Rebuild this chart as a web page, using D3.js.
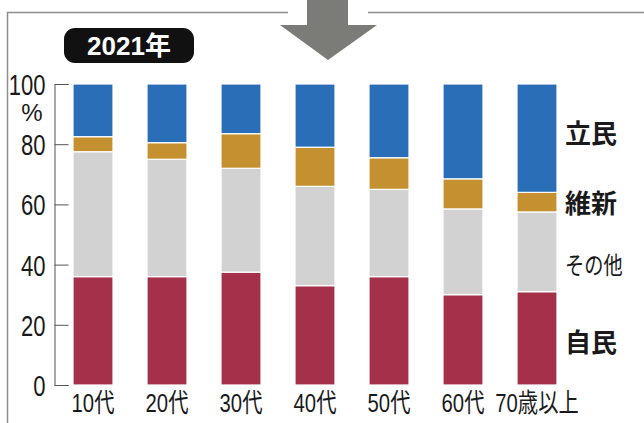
<!DOCTYPE html>
<html>
<head>
<meta charset="utf-8">
<script src="https://cdn.jsdelivr.net/npm/d3@7"></script>
<style>
  body { margin: 0; background: #fff; }
  svg { display: block; }
</style>
</head>
<body>
<div id="chart-area"></div>
<script>
// data (percent of voters per age group)
var categories = ["10代", "20代", "30代", "40代", "50代", "60代", "70歳以上"];
var parties = ["自民", "その他", "維新", "立民"];
var jimin  = [36, 36, 37.5, 33, 36, 30, 31];
var sonota = [41.5, 39, 34.5, 33, 29, 28.5, 26.5];
var ishin  = [5, 5.5, 11.5, 13, 10.5, 10, 6.5];
var rikken = [17.5, 19.5, 16.5, 21, 24.5, 31.5, 36];
var yTicks = [0, 20, 40, 60, 80, 100];
var yearLabel = "2021年";

var width = 644;
var height = 423;
var colors = ["#a4304a", "#d2d2d2", "#c49030", "#2a6eb8"];
var numFont = "'Liberation Sans', 'Noto Sans CJK JP', sans-serif";
var cjkFont = "'Noto Sans CJK JP', sans-serif";

var rows = categories.map(function(c, i) {
    return { cat: c, "自民": jimin[i], "その他": sonota[i], "維新": ishin[i], "立民": rikken[i] };
});

// squeeze text horizontally (the original uses a condensed face)
function condense(sel, k) {
    sel.each(function() {
        var w = this.getComputedTextLength();
        d3.select(this)
            .attr("textLength", w * k)
            .attr("lengthAdjust", "spacingAndGlyphs");
    });
}

var svg = d3.select("#chart-area")
    .append("svg")
    .attr("width", width)
    .attr("height", height);

// frame lines + arrow
var frame = svg.append("g").attr("stroke", "#8d8d8d").attr("stroke-width", 1.5).attr("fill", "none");
frame.append("path").attr("d", "M7.5,423V12.5H288");
frame.append("path").attr("d", "M368,12.5H644");

svg.append("path")
    .attr("d", "M307,0H348V25H377L328,60L280,25H307Z")
    .attr("fill", "#7b7b78");

// year badge
svg.append("rect")
    .attr("x", 64).attr("y", 28)
    .attr("width", 130).attr("height", 35)
    .attr("rx", 11)
    .attr("fill", "#111");
svg.append("text")
    .attr("x", 129).attr("y", 55)
    .attr("text-anchor", "middle")
    .attr("fill", "#fff")
    .attr("font-family", "'Liberation Sans', 'Noto Sans CJK JP', sans-serif")
    .attr("font-weight", "bold")
    .attr("font-size", "26px")
    .text(yearLabel);

var x = d3.scaleBand()
    .domain(categories)
    .range([73, 557])
    .paddingInner(34 / 74)
    .paddingOuter(0);

var y = d3.scaleLinear()
    .domain([0, 100])
    .range([385, 84]);

var stack = d3.stack().keys(parties);
var series = stack(rows);

var layers = svg.append("g").selectAll("g")
    .data(series)
    .enter().append("g")
    .attr("fill", function(d, i) { return colors[i]; });

layers.selectAll("rect")
    .data(function(d) { return d; })
    .enter().append("rect")
    .attr("x", function(d) { return x(d.data.cat); })
    .attr("width", x.bandwidth())
    .attr("y", function(d) { return y(d[1]); })
    .attr("height", function(d) { return y(d[0]) - y(d[1]); })
    .attr("stroke", "#fff")
    .attr("stroke-width", 1.2);

// y axis, ticks point right
var yAxisCall = d3.axisLeft(y)
    .tickValues(yTicks)
    .tickSize(-14)
    .tickPadding(9);

var yAxisGroup = svg.append("g")
    .attr("transform", "translate(54.5,0)")
    .call(yAxisCall);
yAxisGroup.selectAll("path, line").attr("stroke", "#555").attr("stroke-width", 1);
yAxisGroup.select(".domain").attr("fill", "none");
yAxisGroup.selectAll("text")
    .attr("font-family", numFont)
    .attr("font-size", "29px")
    .attr("dy", "0.36em")
    .attr("fill", "#1a1a1a")
    .call(condense, 0.76);

svg.append("text")
    .attr("x", 32).attr("y", 121)
    .attr("text-anchor", "middle")
    .attr("font-family", numFont)
    .attr("font-size", "24px")
    .attr("fill", "#1a1a1a")
    .text("%");

// x labels
var xAxisCall = d3.axisBottom(x).tickSize(0).tickPadding(9);
var xAxisGroup = svg.append("g")
    .attr("transform", "translate(0,385)")
    .call(xAxisCall);
xAxisGroup.select(".domain").remove();
xAxisGroup.selectAll("text")
    .attr("font-family", numFont)
    .attr("font-size", "26px")
    .attr("fill", "#1a1a1a")
    .call(condense, 0.78);

// party labels on the right
var legendY = [134, 204, 265, 343];
var legendW = ["bold", "bold", "normal", "bold"];
svg.append("g").selectAll("text")
    .data(parties)
    .enter().append("text")
    .attr("x", 565)
    .attr("y", function(d, i) { return legendY[3 - i]; })
    .attr("dy", "0.36em")
    .attr("font-family", cjkFont)
    .attr("font-size", function(d) { return d === "その他" ? "24px" : "26px"; })
    .attr("font-weight", function(d, i) { return legendW[3 - i]; })
    .attr("fill", "#1a1a1a")
    .text(function(d) { return d; })
    .each(function(d) {
        if (d === "その他") d3.select(this).call(condense, 0.8);
    });
</script>
</body>
</html>
